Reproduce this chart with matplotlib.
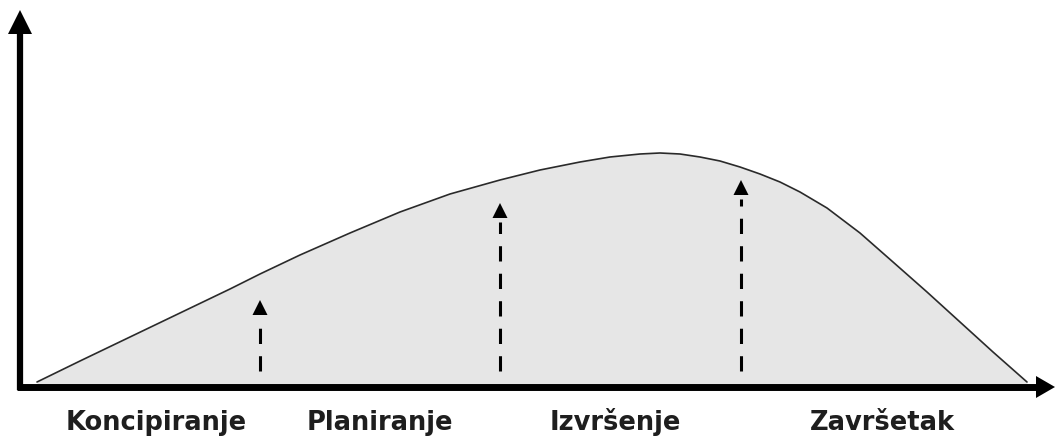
import matplotlib
matplotlib.use("Agg")
import matplotlib.pyplot as plt

# Curve (pixel coordinates, y grows downward)
curve_x = [37, 80, 130, 180, 230, 260, 300, 350, 400, 450, 500, 540, 580,
           610, 640, 660, 680, 700, 720, 740, 760, 780, 800, 827, 860, 893,
           927, 960, 993, 1027]
curve_y = [382, 361, 337, 313, 289, 274, 255, 233, 212, 194, 180, 170, 162,
           157, 154, 153, 154, 157, 161, 167, 174, 182, 192, 208, 233, 262,
           292, 322, 352, 382]

# Dashed arrows
arrow_x = [260, 500, 741]
arrow_tip = [300, 203, 180]

# Phase labels
labels = ["Koncipiranje", "Planiranje", "Izvršenje", "Završetak"]
label_x = [156, 380, 615, 882]

W, H = 1055, 437
fig = plt.figure(figsize=(W / 100, H / 100), dpi=100)
ax = fig.add_axes([0, 0, 1, 1])
ax.set_xlim(0, W)
ax.set_ylim(H, 0)
ax.axis("off")

axis_y = 387
axis_x = 20

# filled area under the curve
ax.fill_between(curve_x, curve_y, axis_y, color="#e6e6e6", zorder=1, lw=0)
ax.plot(curve_x, curve_y, color="#2a2a2a", lw=1.2, zorder=2,
        solid_joinstyle="round", solid_capstyle="round")

# axes lines
ax.plot([axis_x, axis_x], [axis_y + 3, 30], color="black", lw=4.5, zorder=3,
        solid_capstyle="butt")
ax.plot([axis_x - 3, 1040], [axis_y, axis_y], color="black", lw=5.0, zorder=3,
        solid_capstyle="butt")
# axis arrowheads
ax.fill([axis_x - 12, axis_x + 12, axis_x], [34, 34, 10], color="black", zorder=4, lw=0)
ax.fill([1036, 1036, 1055], [axis_y - 11, axis_y + 11, axis_y], color="black", zorder=4, lw=0)

# dashed arrows (pattern starts at the bottom)
for x, tip in zip(arrow_x, arrow_tip):
    base = tip + 15
    ax.plot([x, x], [371, base + 4], color="black", lw=2.2,
            linestyle=(0, (5, 4)), zorder=3, dash_capstyle="butt")
    ax.fill([x - 7.5, x + 7.5, x], [base, base, tip], color="black", zorder=4, lw=0)

for lab, x in zip(labels, label_x):
    ax.text(x, 430, lab, ha="center", va="baseline", fontsize=18.5,
            fontweight="bold", color="#1e1e1e", family="DejaVu Sans")

fig.savefig("out.png", dpi=100)
